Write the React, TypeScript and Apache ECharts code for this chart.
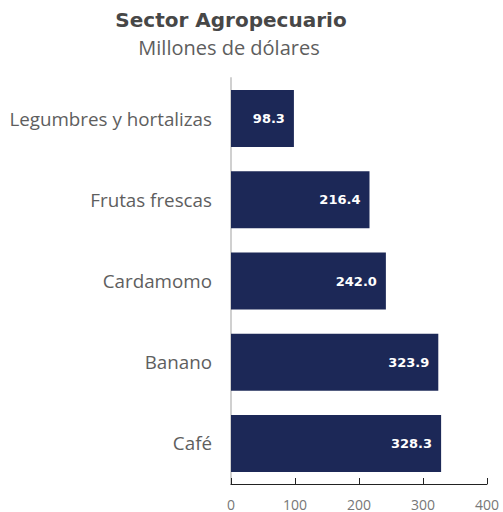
import React, { useEffect, useRef } from "react";
import * as echarts from "echarts";

const categories = ["Café", "Banano", "Cardamomo", "Frutas frescas", "Legumbres y hortalizas"];
const values = [328.3, 323.9, 242.0, 216.4, 98.3];
const xTicks = [0, 100, 200, 300, 400];
const titleText = "Sector Agropecuario";
const subtitleText = "Millones de dólares";

const FONT = "'Open Sans', sans-serif";
const BOLD = "'DejaVu Sans', sans-serif";

export default function App() {
  const ref = useRef<HTMLDivElement>(null);
  useEffect(() => {
    const chart = echarts.init(ref.current!, null, { renderer: "svg" });
    chart.setOption({
      animation: false,
      graphic: [
        {
          type: "text",
          x: 231,
          y: 20,
          style: {
            text: titleText,
            align: "center",
            verticalAlign: "middle",
            fontFamily: BOLD,
            fontWeight: 700,
            fontSize: 20,
            fill: "#474747",
          },
        },
        {
          type: "text",
          x: 229,
          y: 47,
          style: {
            text: subtitleText,
            align: "center",
            verticalAlign: "middle",
            fontFamily: FONT,
            fontWeight: 400,
            fontSize: 20,
            fill: "#5e5e5e",
          },
        },
      ],
      grid: { left: 231, right: 16, top: 78, bottom: 28, containLabel: false },
      xAxis: {
        type: "value",
        min: 0,
        max: 400,
        interval: 100,
        splitLine: { show: false },
        axisLine: { show: true, lineStyle: { color: "#222", width: 1 } },
        axisTick: { show: true, inside: true, length: 6, lineStyle: { color: "#222" } },
        axisLabel: {
          color: "#777",
          fontFamily: FONT,
          fontSize: 14,
          margin: 13,
          formatter: (v: number) => (xTicks.includes(v) ? String(v) : ""),
        },
      },
      yAxis: {
        type: "category",
        data: categories,
        axisLine: { show: true, lineStyle: { color: "#d0d0d0", width: 2 } },
        axisTick: { show: false },
        axisLabel: { color: "#5e5e5e", fontFamily: FONT, fontSize: 18.8, margin: 19 },
      },
      series: [
        {
          type: "bar",
          data: values,
          barWidth: 57,
          itemStyle: { color: "#1c2857" },
          label: {
            show: true,
            position: "insideRight",
            distance: 9,
            color: "#fff",
            fontFamily: BOLD,
            fontWeight: 700,
            fontSize: 13,
            formatter: (p: any) => p.value.toFixed(1),
          },
        },
      ],
    });
    return () => chart.dispose();
  }, []);
  return <div ref={ref} style={{ width: 503, height: 512, position: "absolute", left: 0, top: 0 }} />;
}
